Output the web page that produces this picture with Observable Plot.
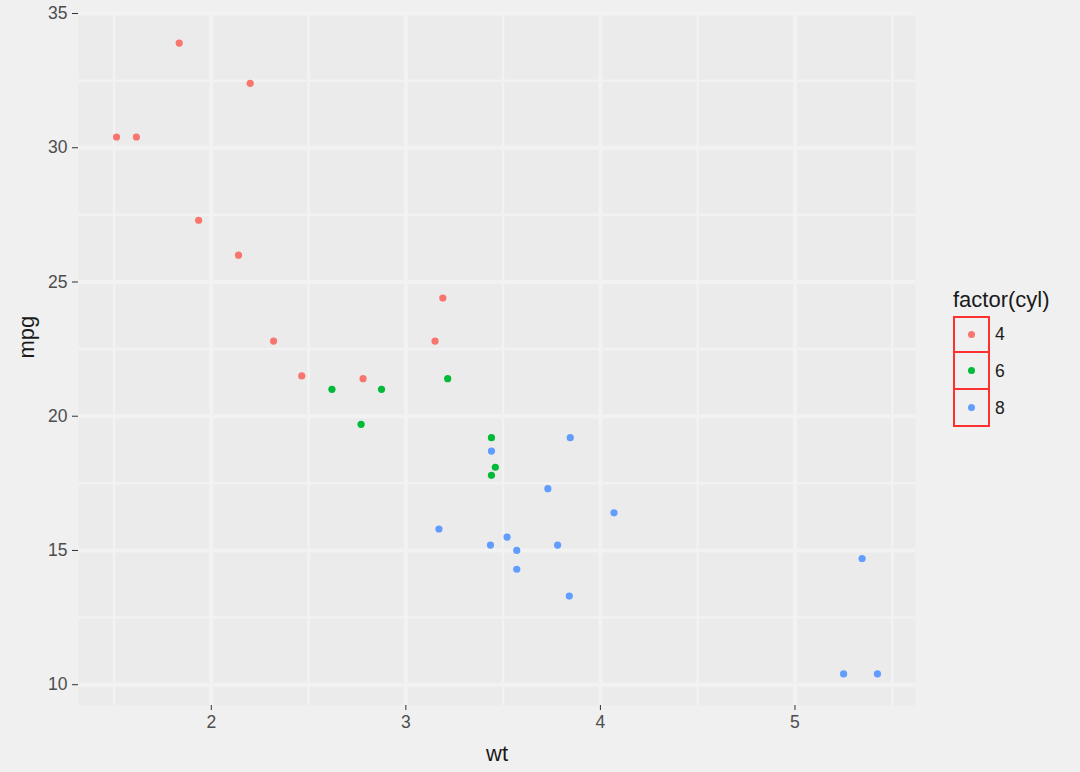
<!DOCTYPE html>
<html>
<head>
<meta charset="utf-8">
<script src="https://cdn.jsdelivr.net/npm/d3@7"></script>
<script src="https://cdn.jsdelivr.net/npm/@observablehq/plot@0.6"></script>
<style>
  html, body { margin: 0; padding: 0; background: #F0F0F0; }
  #wrap { position: relative; width: 1080px; height: 772px; font-family: "Liberation Sans", Arial, sans-serif; }
  #legend { position: absolute; left: 953px; top: 289px; color: #1a1a1a; }
  #legend .title { font-size: 22px; line-height: 22px; height: 22px; margin-bottom: 5px; white-space: nowrap; }
  #legend .row { display: flex; align-items: center; }
  #legend .key { width: 37px; height: 37px; border: 2px solid #FF3030; box-sizing: border-box; display: flex; align-items: center; justify-content: center; }
  #legend .row + .row .key { border-top: none; }
  #legend .dot { width: 7px; height: 7px; border-radius: 50%; }
  #legend .lab { font-size: 17.5px; margin-left: 5px; }
</style>
</head>
<body>
<div id="wrap"></div>
<script>
// mtcars: wt, mpg, cyl
const wt  = [2.620, 2.875, 2.320, 3.215, 3.440, 3.460, 3.570, 3.190, 3.150, 3.440, 3.440, 4.070, 3.730, 3.780, 5.250, 5.424, 5.345, 2.200, 1.615, 1.835, 2.465, 3.520, 3.435, 3.840, 3.845, 1.935, 2.140, 1.513, 3.170, 2.770, 3.570, 2.780];
const mpg = [21.0, 21.0, 22.8, 21.4, 18.7, 18.1, 14.3, 24.4, 22.8, 19.2, 17.8, 16.4, 17.3, 15.2, 10.4, 10.4, 14.7, 32.4, 30.4, 33.9, 21.5, 15.5, 15.2, 13.3, 19.2, 27.3, 26.0, 30.4, 15.8, 19.7, 15.0, 21.4];
const cyl = [6, 6, 4, 6, 8, 6, 8, 4, 4, 6, 6, 8, 8, 8, 8, 8, 8, 4, 4, 4, 4, 8, 8, 8, 8, 4, 4, 4, 8, 6, 8, 4];

const cylLevels = ["4", "6", "8"];
const cylColors = ["#F8766D", "#00BA38", "#619CFF"];
const xTicks = [2, 3, 4, 5];
const xMinor = [1.5, 2.5, 3.5, 4.5, 5.5];
const yTicks = [10, 15, 20, 25, 30, 35];
const yMinor = [12.5, 17.5, 22.5, 27.5, 32.5];
const xLabel = "wt";
const yLabel = "mpg";
const legendTitle = "factor(cyl)";

const data = wt.map((w, i) => ({wt: w, mpg: mpg[i], cyl: String(cyl[i])}));

// ggplot-style 5% expansion
const xExt = d3.extent(wt), yExt = d3.extent(mpg);
const xPad = (xExt[1] - xExt[0]) * 0.05, yPad = (yExt[1] - yExt[0]) * 0.05;

const chart = Plot.plot({
  width: 1080,
  height: 772,
  marginLeft: 78,
  marginRight: 165,
  marginTop: 11,
  marginBottom: 67,
  style: {background: "transparent", fontFamily: "'Liberation Sans', Arial, sans-serif"},
  x: {domain: [xExt[0] - xPad, xExt[1] + xPad]},
  y: {domain: [yExt[0] - yPad, yExt[1] + yPad]},
  color: {domain: cylLevels, range: cylColors},
  marks: [
    Plot.frame({fill: "#EBEBEB", stroke: null}),
    Plot.gridX(xMinor, {stroke: "#F2F2F2", strokeOpacity: 1, strokeWidth: 2.5}),
    Plot.gridY(yMinor, {stroke: "#F2F2F2", strokeOpacity: 1, strokeWidth: 2.5}),
    Plot.gridX(xTicks, {stroke: "#F2F2F2", strokeOpacity: 1, strokeWidth: 4}),
    Plot.gridY(yTicks, {stroke: "#F2F2F2", strokeOpacity: 1, strokeWidth: 4}),
    Plot.axisX(xTicks, {label: null, tickFormat: d => String(d), tickSize: 5, tickPadding: 5, fontSize: 17.5, color: "#4D4D4D", stroke: "#333333"}),
    Plot.axisY(yTicks, {label: null, tickFormat: d => String(d), tickSize: 6, tickPadding: 5, fontSize: 17.5, color: "#4D4D4D", stroke: "#333333"}),
    Plot.text([xLabel], {frameAnchor: "bottom", lineAnchor: "middle", dy: 48, fontSize: 22, fill: "#1a1a1a"}),
    Plot.text([yLabel], {frameAnchor: "left", lineAnchor: "middle", rotate: -90, dx: -52, fontSize: 22, fill: "#1a1a1a"}),
    Plot.dot(data, {x: "wt", y: "mpg", fill: "cyl", r: 3.6, stroke: null})
  ]
});
document.getElementById("wrap").appendChild(chart);

// legend
const leg = document.createElement("div");
leg.id = "legend";
const t = document.createElement("div");
t.className = "title";
t.textContent = legendTitle;
leg.appendChild(t);
cylLevels.forEach((lv, i) => {
  const row = document.createElement("div");
  row.className = "row";
  const key = document.createElement("div");
  key.className = "key";
  const dot = document.createElement("div");
  dot.className = "dot";
  dot.style.background = cylColors[i];
  key.appendChild(dot);
  const lab = document.createElement("div");
  lab.className = "lab";
  lab.textContent = lv;
  row.appendChild(key);
  row.appendChild(lab);
  leg.appendChild(row);
});
document.getElementById("wrap").appendChild(leg);
</script>
</body>
</html>
